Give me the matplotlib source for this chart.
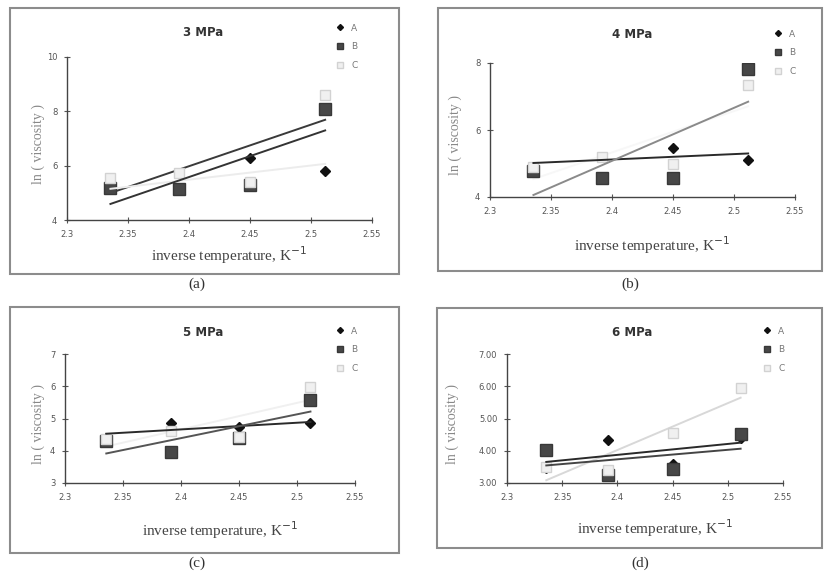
import numpy as np
import matplotlib.pyplot as plt
from matplotlib.patches import Rectangle
from matplotlib.ticker import FormatStrFormatter

# inverse temperature (1000/T), K^-1
inv_temp = [2.3356, 2.3915, 2.4501, 2.5116]
series_names = ["A", "B", "C"]

# ln(viscosity)
mpa3_A = [5.17, 5.14, 6.27, 5.82]
mpa3_B = [5.17, 5.14, 5.30, 8.08]
mpa3_C = [5.55, 5.72, 5.41, 8.60]

mpa4_A = [4.87, 5.18, 5.47, 5.10]
mpa4_B = [4.78, 4.56, 4.56, 7.82]
mpa4_C = [4.90, 5.18, 5.00, 7.34]

mpa5_A = [4.40, 4.85, 4.73, 4.85]
mpa5_B = [4.30, 3.95, 4.40, 5.57]
mpa5_C = [4.35, 4.60, 4.44, 5.99]

mpa6_A = [3.48, 4.33, 3.59, 4.39]
mpa6_B = [4.02, 3.25, 3.42, 4.51]
mpa6_C = [3.50, 3.40, 4.54, 5.94]

titles = ["3 MPa", "4 MPa", "5 MPa", "6 MPa"]
panel_tags = ["(a)", "(b)", "(c)", "(d)"]
y_ticks = [[4, 6, 8, 10], [4, 6, 8], [3, 4, 5, 6, 7], [3, 4, 5, 6, 7]]
x_ticks = [2.3, 2.35, 2.4, 2.45, 2.5, 2.55]
x_tick_labels = ["2.3", "2.35", "2.4", "2.45", "2.5", "2.55"]

panels = [
    [mpa3_A, mpa3_B, mpa3_C],
    [mpa4_A, mpa4_B, mpa4_C],
    [mpa5_A, mpa5_B, mpa5_C],
    [mpa6_A, mpa6_B, mpa6_C],
]

W, H = 825, 578
fig = plt.figure(figsize=(W / 100, H / 100), dpi=100)

def fx(px):
    return px / W

def fy(py):
    return 1 - py / H

# layout in pixels: axes box, outer frame, title, legend, tag
axes_px = [(67, 372, 57, 220), (490, 795, 63, 197), (65, 355, 354, 483), (507, 783, 354, 483)]
frame_px = [(10, 399, 8, 274), (438, 822, 8, 271), (10, 399, 307, 553), (437, 822, 308, 548)]
title_px = [(203, 33), (632, 35), (203, 333), (632, 333)]
legend_px = [(333, 19), (771, 25), (333, 322), (760, 322)]
tag_px = [(197, 284), (630, 284), (197, 563), (640, 563)]
xlabel_y = [255, 245, 530, 528]
ylabel_x = [38, 455, 38, 452]

marker_style = [
    dict(marker="D", ms=5.5, color="#111111", mec="#111111"),
    dict(marker="s", ms=8, color="#474747", mec="#383838"),
    dict(marker="s", ms=7, color="#f0f0f0", mec="#d2d2d2"),
]
line_colors = [
    ["#ececec", "#333333", "#3a3a3a"],
    ["#2a2a2a", "#8a8a8a", "#f7f7f7"],
    ["#2a2a2a", "#555555", "#f0f0f0"],
    ["#2a2a2a", "#444444", "#d8d8d8"],
]

for i, data in enumerate(panels):
    l, r, t, b = axes_px[i]
    ax = fig.add_axes([fx(l), fy(b), fx(r - l), (b - t) / H])

    x = np.array(inv_temp)
    for k, vals in enumerate(data):
        ax.plot(x, vals, linestyle="none", label=series_names[k], zorder=3 + k, **marker_style[k])
    for k, vals in enumerate(data):
        m, c = np.polyfit(x, vals, 1)
        xs = np.array([x.min(), x.max()])
        ax.plot(xs, m * xs + c, color=line_colors[i][k], lw=1.4, zorder=6 if k < 2 else 2)

    ax.set_xlim(2.3, 2.55)
    ax.set_ylim(y_ticks[i][0], y_ticks[i][-1])
    ax.set_xticks(x_ticks)
    ax.set_xticklabels(x_tick_labels)
    ax.set_yticks(y_ticks[i])
    if i == 3:
        ax.yaxis.set_major_formatter(FormatStrFormatter("%.2f"))
    ax.tick_params(direction="inout", length=4, width=0.8, labelsize=6,
                   colors="#555555", pad=5)
    for s in ["top", "right"]:
        ax.spines[s].set_visible(False)
    for s in ["left", "bottom"]:
        ax.spines[s].set_color("#444444")
        ax.spines[s].set_linewidth(1.0)
    ax.patch.set_alpha(0)

    leg = ax.legend(loc="upper left", bbox_to_anchor=(fx(legend_px[i][0]), fy(legend_px[i][1])),
                    bbox_transform=fig.transFigure, frameon=False, fontsize=6.5,
                    handlelength=0.6, handletextpad=0.9, labelspacing=1.1, borderpad=0,
                    markerscale=0.55)
    for txt in leg.get_texts():
        txt.set_color("#777777")

    fig.text(fx(title_px[i][0]), fy(title_px[i][1]), titles[i], ha="center", va="center",
             fontsize=8.5, fontweight="bold", color="#333333", family="DejaVu Sans")
    fig.text(fx((l + r) / 2 + 10), fy(xlabel_y[i]), "inverse temperature, K$^{-1}$",
             ha="center", va="center", fontsize=11, family="Liberation Serif", color="#444444")
    fig.text(fx(ylabel_x[i]), fy((t + b) / 2 + 5), "ln ( viscosity )", rotation=90,
             ha="center", va="center", fontsize=10, family="Liberation Serif", color="#888888")
    fig.text(fx(tag_px[i][0]), fy(tag_px[i][1]), panel_tags[i], ha="center", va="center",
             fontsize=11, family="Liberation Serif", color="#333333")

    fl, fr, ft, fb = frame_px[i]
    fig.add_artist(Rectangle((fx(fl), fy(fb)), fx(fr - fl), (fb - ft) / H,
                             transform=fig.transFigure, fill=False,
                             edgecolor="#8c8c8c", linewidth=1.5))

fig.savefig("out.png", dpi=100)
